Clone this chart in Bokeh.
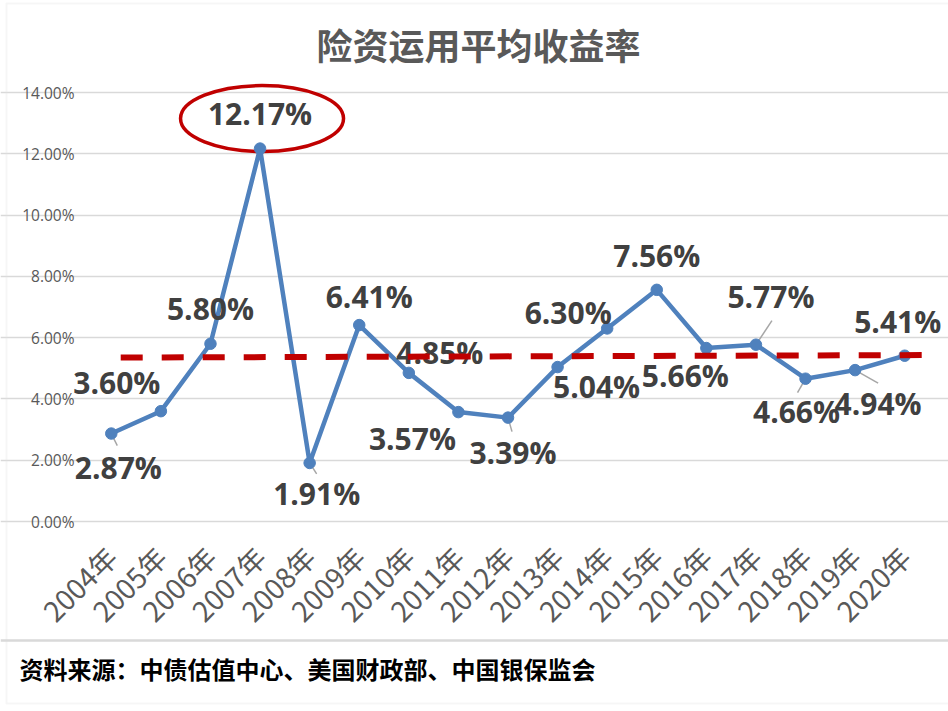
import math
from bokeh.plotting import figure
from bokeh.models import (Range1d, FixedTicker, LabelSet, Label, ColumnDataSource,
                          BoxAnnotation, Span)
from bokeh.embed import file_html
from bokeh.resources import INLINE
from bokeh.core.properties import value

# ---------------- data ----------------
years = ["2004年", "2005年", "2006年", "2007年", "2008年", "2009年", "2010年", "2011年",
         "2012年", "2013年", "2014年", "2015年", "2016年", "2017年", "2018年", "2019年", "2020年"]
returns = [2.87, 3.60, 5.80, 12.17, 1.91, 6.41, 4.85, 3.57, 3.39, 5.04, 6.30, 7.56,
           5.66, 5.77, 4.66, 4.94, 5.41]
value_labels = ["2.87%", "3.60%", "5.80%", "12.17%", "1.91%", "6.41%", "4.85%", "3.57%",
                "3.39%", "5.04%", "6.30%", "7.56%", "5.66%", "5.77%", "4.66%", "4.94%", "5.41%"]
y_ticks = [0, 2, 4, 6, 8, 10, 12, 14]
y_tick_labels = ["0.00%", "2.00%", "4.00%", "6.00%", "8.00%", "10.00%", "12.00%", "14.00%"]
avg_values = [5.35, 5.43]          # dashed average line, start / end
highlight_index = 3                 # 2007 peak circled
title_text = "险资运用平均收益率"
source_text = "资料来源：中债估值中心、美国财政部、中国银保监会"

# ---------------- label placement (screen px, down positive) ----------------
label_dx = [7, -44, 0, 0, 7, 10, 31, -46, 5, 39, -39, 0, -21, 15, -9, 23, -7]
label_dy = [34, -29, -35, -35, 31, -29, -20, 26, 35, 19, -16, -34, 27, -48, 33, 33, -34]
leader_idx = [0, 4, 8, 13, 14, 15]
leader_dx = [6, 7, 4, 16, -8, 23]
leader_dy = [12, 11, 14, -24, 14, 13]

# ---------------- geometry (canvas px) ----------------
W, H = 948, 711
PLOT_L, PLOT_R = 86, 929          # plot area horizontal extent
ZERO_Y, TOP_Y = 521, 92           # pixel rows of 0% and 14%
n = len(years)
xs = list(range(n))
px_per_x = (PLOT_R - PLOT_L) / n
px_per_y = (ZERO_Y - TOP_Y) / y_ticks[-1]
x_lo = -0.5 - PLOT_L / px_per_x
x_hi = -0.5 + (W - PLOT_L) / px_per_x
y_lo = -(H - ZERO_Y) / px_per_y
y_hi = ZERO_Y / px_per_y


def fx(cx):
    return x_lo + cx / px_per_x


def fy(cy):
    return y_hi - cy / px_per_y


p = figure(width=W, height=H, x_range=Range1d(x_lo, x_hi), y_range=Range1d(y_lo, y_hi),
           output_backend="svg", toolbar_location=None, title=None, min_border=0)
p.outline_line_color = None
p.background_fill_color = "white"
p.border_fill_color = "white"

# grid
p.xgrid.visible = False
p.ygrid.ticker = FixedTicker(ticks=y_ticks)
p.ygrid.grid_line_color = "#D9D9D9"
p.ygrid.grid_line_width = 1.5
p.ygrid.bounds = (-0.5, n - 0.5)

# y axis (pinned at the plot-area's left edge)
p.yaxis.fixed_location = -0.5
p.yaxis.ticker = FixedTicker(ticks=y_ticks)
p.yaxis.major_label_overrides = dict(zip(y_ticks, y_tick_labels))
p.yaxis.axis_line_color = None
p.yaxis.major_tick_line_color = None
p.yaxis.minor_tick_line_color = None
p.yaxis.major_tick_out = 0
p.yaxis.major_tick_in = 0
p.yaxis.major_label_standoff = 12
p.yaxis.major_label_text_font = "Open Sans"
p.yaxis.major_label_text_font_size = "15.5px"
p.yaxis.major_label_text_color = "#595959"

# x axis (pinned at the plot-area's bottom edge)
p.xaxis.fixed_location = -0.1
p.xaxis.ticker = FixedTicker(ticks=xs)
p.xaxis.major_label_overrides = dict(zip(xs, years))
p.xaxis.major_label_orientation = math.pi / 4
p.xaxis.axis_line_color = None
p.xaxis.major_tick_line_color = None
p.xaxis.minor_tick_line_color = None
p.xaxis.major_tick_out = 0
p.xaxis.major_tick_in = 0
p.xaxis.major_label_standoff = 27
p.xaxis.major_label_text_font = "Noto Sans CJK SC"
p.xaxis.major_label_text_font_size = "28px"
p.xaxis.major_label_text_color = "#595959"

# highlight ellipse around the peak label
p.ellipse(x=xs[highlight_index] + 0.04, y=returns[highlight_index] + 0.98,
          width=163, height=66, width_units="screen", height_units="screen",
          fill_color=None, line_color="#C00000", line_width=3.5)

# leader lines
p.segment(x0=[xs[i] for i in leader_idx], y0=[returns[i] for i in leader_idx],
          x1=[xs[i] + dx / px_per_x for i, dx in zip(leader_idx, leader_dx)],
          y1=[returns[i] - dy / px_per_y for i, dy in zip(leader_idx, leader_dy)],
          line_color="#A6A6A6", line_width=1.5)

# main series
p.line(xs, returns, line_color="#4F81BD", line_width=4.5, line_join="round")
p.scatter(xs, returns, size=11.5, fill_color="#4F81BD", line_color="#4F81BD")

# data labels
src = ColumnDataSource(dict(x=xs, y=returns, text=value_labels,
                            dx=label_dx, dy=[-d for d in label_dy]))
p.add_layout(LabelSet(x="x", y="y", text="text", x_offset="dx", y_offset="dy", source=src,
                      text_font=value("Open Sans"), text_font_style="bold",
                      text_font_size="30px", text_color="#404040",
                      text_align="center", text_baseline="middle"))

# average dashed line (on top)
avg = p.line([xs[0] + 0.19, xs[-1] + 0.35], avg_values, line_color="#C00000",
             line_width=6, line_dash="22 19", line_cap="butt")
avg.level = "overlay"

# title
p.add_layout(Label(x=fx(478), y=fy(43), text=title_text, text_font="Noto Sans CJK SC",
                   text_font_style="bold", text_font_size="36px", text_color="#595959",
                   text_align="center", text_baseline="middle"))

# chart border, footer separator and source note
p.add_layout(BoxAnnotation(left=fx(6), right=fx(W + 20), top=fy(3), bottom=fy(703),
                           fill_color=None, line_color="#E0E0E0", line_width=2))
p.add_layout(Span(location=fy(640), dimension="width", line_color="#D9D9D9", line_width=2.5))
p.add_layout(Label(x=fx(19), y=fy(668), text=source_text, text_font="Noto Sans CJK SC",
                   text_font_style="bold", text_font_size="24px", text_color="#000000",
                   text_align="left", text_baseline="middle"))

open("out.html", "w").write(file_html(p, INLINE))
